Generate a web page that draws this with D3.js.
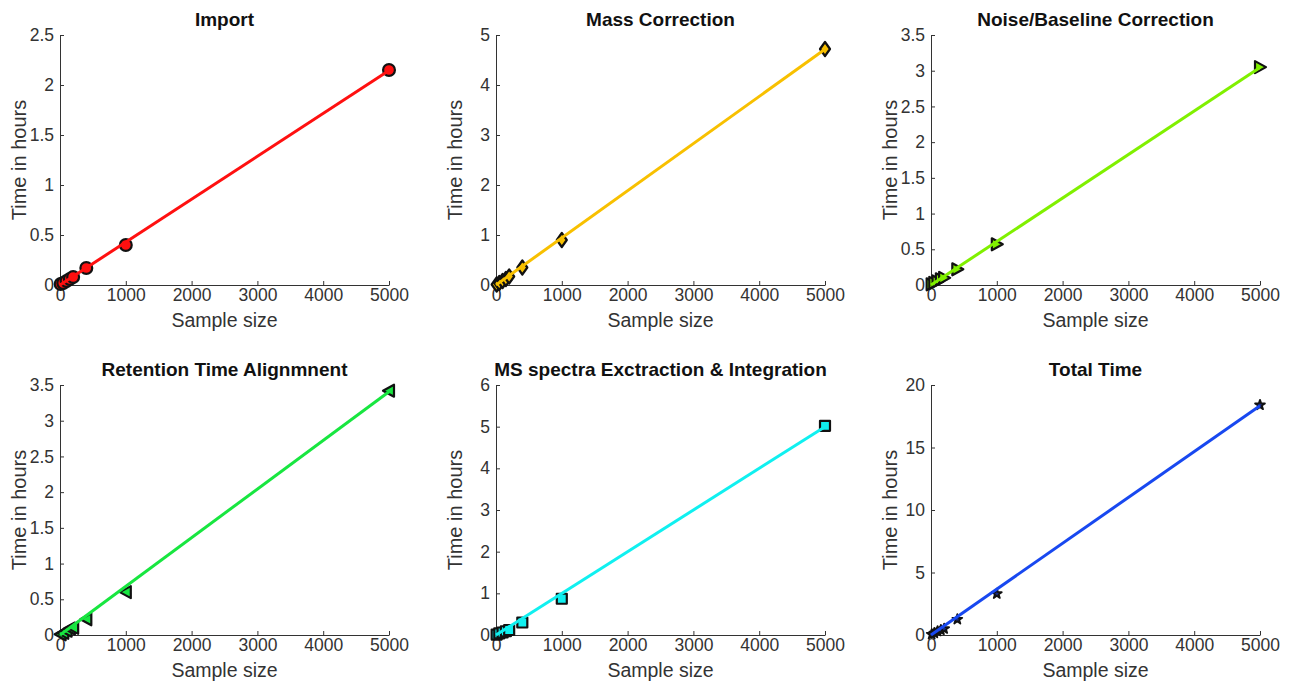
<!DOCTYPE html>
<html>
<head>
<meta charset="utf-8">
<script src="https://cdn.jsdelivr.net/npm/d3@7"></script>
<style>
  body { margin: 0; background: #fff; }
  svg { display: block; }
  text { font-family: "Liberation Sans", Arial, Helvetica, sans-serif; }
</style>
</head>
<body>
<svg id="chart" width="1289" height="684"></svg>
<script>
// Sample sizes processed in each timing run
const sampleSizes = [10, 50, 100, 150, 200, 400, 1000, 5000];

// Processing time in hours for each pipeline step
const importHours     = [0.01, 0.02, 0.04, 0.06, 0.08, 0.17, 0.40, 2.15];
const massHours       = [0.01, 0.04, 0.08, 0.12, 0.17, 0.35, 0.90, 4.72];
const noiseHours      = [0.01, 0.03, 0.05, 0.08, 0.10, 0.22, 0.57, 3.05];
const retentionHours  = [0.01, 0.03, 0.06, 0.09, 0.10, 0.22, 0.60, 3.42];
const spectraHours    = [0.01, 0.04, 0.06, 0.09, 0.12, 0.30, 0.87, 5.02];
const totalHours      = [0.05, 0.15, 0.30, 0.40, 0.50, 1.25, 3.30, 18.40];

const panelTitles = ["Import", "Mass Correction", "Noise/Baseline Correction",
                     "Retention Time Alignmnent", "MS spectra Exctraction & Integration", "Total Time"];
const xTicks = [0, 1000, 2000, 3000, 4000, 5000];
const yTickSets = [
  [0, 0.5, 1, 1.5, 2, 2.5],
  [0, 1, 2, 3, 4, 5],
  [0, 0.5, 1, 1.5, 2, 2.5, 3, 3.5],
  [0, 0.5, 1, 1.5, 2, 2.5, 3, 3.5],
  [0, 1, 2, 3, 4, 5, 6],
  [0, 5, 10, 15, 20]
];
const seriesColors = ["#ff1010", "#f8c000", "#80f000", "#18e640", "#10f0f0", "#1848f0"];
const markerShapes = ["circle", "diamond", "triRight", "triLeft", "square", "star"];
const seriesValues = [importHours, massHours, noiseHours, retentionHours, spectraHours, totalHours];

const svg = d3.select("#chart");
const colLeft = [60, 496, 931];
const rowTop = [35, 385];
const plotW = 329, plotH = 250;

// Marker path generators (centred on 0,0)
function markerPath(shape) {
  const s = 6;
  switch (shape) {
    case "circle": return d3.symbol(d3.symbolCircle, 110)();
    case "diamond": return `M0,${-s-1}L${s-1},0L0,${s+1}L${-s+1},0Z`;
    case "triRight": return `M${s},0L${-s+1},${-s}L${-s+1},${s}Z`;
    case "triLeft": return `M${-s},0L${s-1},${-s}L${s-1},${s}Z`;
    case "square": return `M${-s+1},${-s+1}H${s-1}V${s-1}H${-s+1}Z`;
    case "star": return d3.symbol(d3.symbolStar, 30)();
  }
}

// Ordinary least-squares line through the points
function linearFit(xs, ys) {
  const mx = d3.mean(xs), my = d3.mean(ys);
  let num = 0, den = 0;
  xs.forEach((x, i) => { num += (x - mx) * (ys[i] - my); den += (x - mx) ** 2; });
  const b = num / den;
  return { slope: b, intercept: my - b * mx };
}

panelTitles.forEach((title, i) => {
  const col = i % 3, row = Math.floor(i / 3);
  const yTicks = yTickSets[i];
  const values = seriesValues[i];
  const g = svg.append("g").attr("transform", `translate(${colLeft[col]},${rowTop[row]})`);

  const x = d3.scaleLinear().domain([0, 5000]).range([0, plotW]);
  const y = d3.scaleLinear().domain([0, d3.max(yTicks)]).range([plotH, 0]);

  // Axes: inward ticks, no box
  const xAxis = g.append("g").attr("transform", `translate(0,${plotH})`)
    .call(d3.axisBottom(x).tickValues(xTicks).tickSizeInner(-4).tickSizeOuter(0).tickPadding(7).tickFormat(d3.format("d")));
  const yAxis = g.append("g")
    .call(d3.axisLeft(y).tickValues(yTicks).tickSizeInner(-4).tickSizeOuter(0).tickPadding(6).tickFormat(d => String(d)));
  [xAxis, yAxis].forEach(a => {
    a.select(".domain").attr("stroke", "#333").attr("stroke-width", 1);
    a.selectAll(".tick line").attr("stroke", "#333");
    a.selectAll(".tick text").attr("fill", "#333").style("font-size", "17.5px");
  });
  xAxis.selectAll(".tick text").attr("dy", "0.5em");

  // Data markers
  const isStar = markerShapes[i] === "star";
  g.append("g").selectAll("path")
    .data(sampleSizes.map((s, k) => [s, values[k]]))
    .join("path")
    .attr("transform", d => `translate(${x(d[0])},${y(d[1])})`)
    .attr("d", markerPath(markerShapes[i]))
    .attr("fill", isStar ? "#1a2a80" : seriesColors[i])
    .attr("stroke", "#111")
    .attr("stroke-width", isStar ? 1.8 : 2.2)
    .attr("stroke-linejoin", "round");

  // Fitted trend line
  const fit = linearFit(sampleSizes, values);
  const xEnds = [0, d3.max(sampleSizes)];
  g.append("path")
    .datum(xEnds.map(v => [v, Math.max(0, fit.intercept + fit.slope * v)]))
    .attr("d", d3.line().x(d => x(d[0])).y(d => y(d[1])))
    .attr("fill", "none")
    .attr("stroke", seriesColors[i])
    .attr("stroke-width", 3);

  // Title and axis labels
  g.append("text").attr("x", plotW / 2).attr("y", -9)
    .attr("text-anchor", "middle").style("font-size", "19px").style("font-weight", "bold")
    .attr("fill", "#111").text(title);
  g.append("text").attr("x", plotW / 2).attr("y", plotH + 42)
    .attr("text-anchor", "middle").style("font-size", "19.5px").attr("fill", "#333").text("Sample size");
  g.append("text").attr("transform", `translate(-34,${plotH / 2}) rotate(-90)`)
    .attr("text-anchor", "middle").style("font-size", "20px").attr("fill", "#333").text("Time in hours");
});
</script>
</body>
</html>
